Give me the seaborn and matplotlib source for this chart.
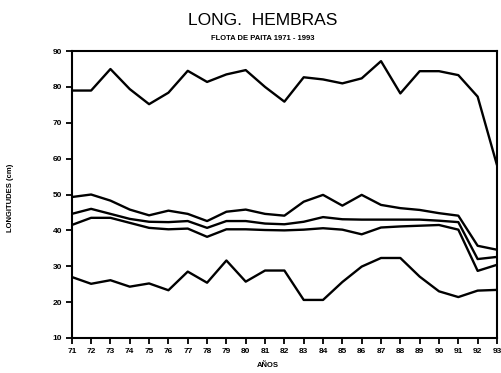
import matplotlib
matplotlib.use("Agg")
import matplotlib.pyplot as plt
import seaborn as sns
import pandas as pd

years = list(range(71, 94))
year_labels = [str(y) for y in years]

serie_max = [79, 79, 85, 79.4, 75.2, 78.4, 84.5, 81.4, 83.5, 84.7, 80, 75.9,
             82.7, 82.1, 81, 82.4, 87.2, 78.2, 84.4, 84.4, 83.3, 77.3, 58.2]
serie_p_sup = [49.3, 50.0, 48.3, 45.8, 44.2, 45.5, 44.6, 42.6, 45.2, 45.8, 44.6, 44.1,
               48.0, 49.9, 46.9, 49.9, 47.1, 46.2, 45.7, 44.8, 44.1, 35.7, 34.6]
serie_media = [44.6, 46.0, 44.6, 43.2, 42.4, 42.3, 42.6, 40.7, 42.6, 42.6, 41.9, 41.7,
               42.4, 43.7, 43.1, 43.0, 43.0, 43.0, 43.0, 42.7, 42.3, 32.0, 32.6]
serie_moda = [41.5, 43.5, 43.5, 42.1, 40.7, 40.3, 40.5, 38.2, 40.3, 40.3, 40.1, 40.0,
              40.2, 40.6, 40.2, 38.9, 40.8, 41.1, 41.3, 41.5, 40.2, 28.7, 30.4]
serie_min = [27.0, 25.1, 26.1, 24.3, 25.2, 23.3, 28.5, 25.4, 31.6, 25.7, 28.8, 28.8,
             20.6, 20.6, 25.6, 29.9, 32.3, 32.3, 27.1, 23.0, 21.4, 23.2, 23.4]

y_ticks = [10, 20, 30, 40, 50, 60, 70, 80, 90]

sns.set_style("ticks")
plt.rcParams['font.family'] = ['Liberation Sans', 'DejaVu Sans']
plt.rcParams['text.color'] = 'black'
plt.rcParams['axes.labelcolor'] = 'black'

fig = plt.figure(figsize=(5.02, 3.73), dpi=100)
ax = fig.add_axes([0.143, 0.094, 0.847, 0.769])

for s in [serie_max, serie_p_sup, serie_media, serie_moda, serie_min]:
    df = pd.DataFrame({"anio": years, "long": s})
    sns.lineplot(data=df, x="anio", y="long", ax=ax, color="black", linewidth=1.7)

ax.set_xlim(71, 93)
ax.set_ylim(10, 90)
ax.set_xticks(years)
ax.set_xticklabels(year_labels)
ax.set_yticks(y_ticks)
ax.set_yticklabels([str(v) for v in y_ticks])
for sp in ax.spines.values():
    sp.set_visible(True)
    sp.set_linewidth(1.5)
    sp.set_color("black")
ax.tick_params(axis="both", direction="out", length=4, width=1.3, labelsize=6,
               colors="black", pad=3)
for lab in ax.get_xticklabels() + ax.get_yticklabels():
    lab.set_fontweight("bold")

ax.set_xlabel("AÑOS", fontsize=5.5, fontweight="bold")
ax.xaxis.set_label_coords(0.462, -0.085)
ax.set_ylabel("LONGITUDES (cm)", fontsize=5.5, fontweight="bold")
ax.yaxis.set_label_coords(-0.135, 0.49)

fig.text(0.524, 0.945, "LONG.  HEMBRAS", ha="center", va="center", fontsize=12.5,
         color="black")
fig.text(0.524, 0.898, "FLOTA DE PAITA 1971 - 1993", ha="center", va="center",
         fontsize=5.5, fontweight="bold", color="black")

fig.savefig("out.png", dpi=100)
